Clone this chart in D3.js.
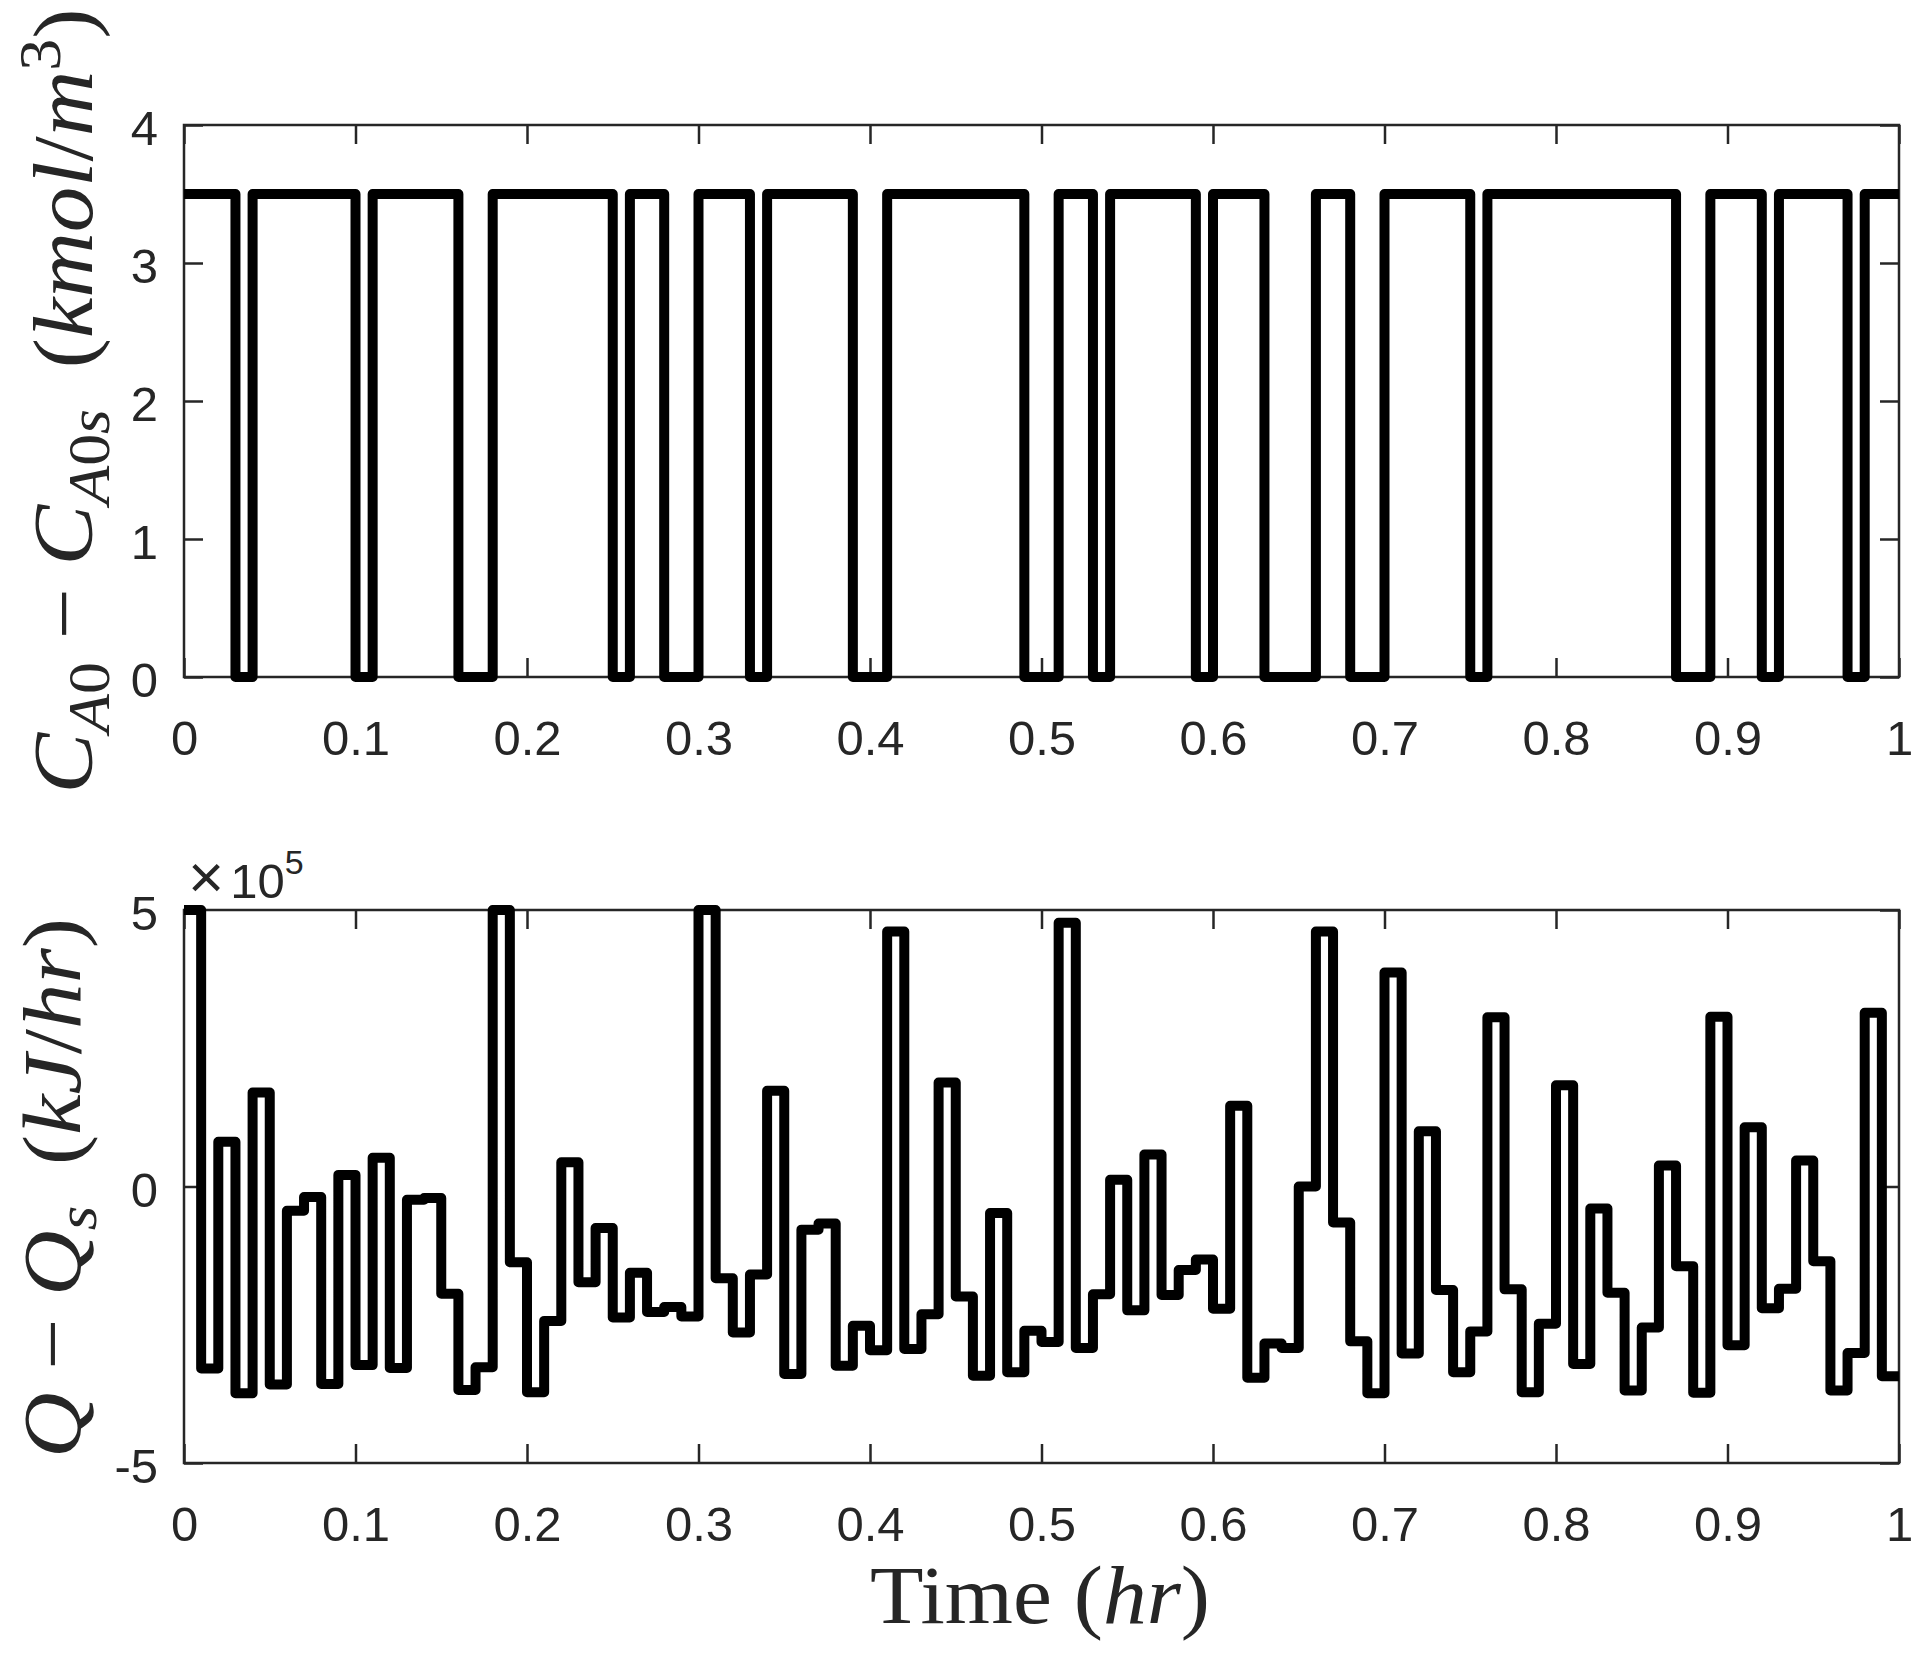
<!DOCTYPE html>
<html>
<head>
<meta charset="utf-8">
<script src="https://cdn.jsdelivr.net/npm/d3@7"></script>
<style>
  html, body { margin: 0; padding: 0; background: #fff; }
  svg { display: block; }
</style>
</head>
<body>
<script>
// ---------------- DATA ----------------
const sampleTime = 0.01; // hr, piecewise-constant input period

// C_A0 - C_A0s (kmol/m^3), one value per sampling period
const cValues = [
  3.5,3.5,3.5,0,3.5,3.5,3.5,3.5,3.5,3.5,
  0,3.5,3.5,3.5,3.5,3.5,0,0,3.5,3.5,
  3.5,3.5,3.5,3.5,3.5,0,3.5,3.5,0,0,
  3.5,3.5,3.5,0,3.5,3.5,3.5,3.5,3.5,0,
  0,3.5,3.5,3.5,3.5,3.5,3.5,3.5,3.5,0,
  0,3.5,3.5,0,3.5,3.5,3.5,3.5,3.5,0,
  3.5,3.5,3.5,0,0,0,3.5,3.5,0,0,
  3.5,3.5,3.5,3.5,3.5,0,3.5,3.5,3.5,3.5,
  3.5,3.5,3.5,3.5,3.5,3.5,3.5,0,0,3.5,
  3.5,3.5,0,3.5,3.5,3.5,3.5,0,3.5,3.5
];

// Q - Qs (x 10^5 kJ/hr), one value per sampling period
const qValues = [
   5.00,-3.29, 0.81,-3.74, 1.70,-3.58,-0.44,-0.19,-3.57, 0.21,
  -3.23, 0.52,-3.28,-0.24,-0.21,-1.94,-3.68,-3.27, 5.00,-1.37,
  -3.72,-2.43, 0.44,-1.73,-0.75,-2.37,-1.56,-2.27,-2.18,-2.35,
   5.00,-1.66,-2.64,-1.59, 1.73,-3.39,-0.78,-0.67,-3.24,-2.52,
  -2.96, 4.61,-2.94,-2.31, 1.88,-1.99,-3.42,-0.48,-3.36,-2.61,
  -2.81, 4.77,-2.92,-1.95, 0.12,-2.24, 0.58,-1.96,-1.51,-1.32,
  -2.21, 1.46,-3.46,-2.84,-2.92, 0.00, 4.61,-0.65,-2.80,-3.74,
   3.87,-3.02, 1.00,-1.87,-3.36,-2.62, 3.06,-1.86,-3.72,-2.48,
   1.83,-3.21,-0.40,-1.92,-3.69,-2.55, 0.38,-1.44,-3.73, 3.07,
  -2.87, 1.07,-2.20,-1.85, 0.47,-1.35,-3.69,-3.01, 3.14,-3.43
];

const xTicks = [0,0.1,0.2,0.3,0.4,0.5,0.6,0.7,0.8,0.9,1];
const xTickLabels = ["0","0.1","0.2","0.3","0.4","0.5","0.6","0.7","0.8","0.9","1"];
const cTicks = [0,1,2,3,4];
const cTickLabels = ["0","1","2","3","4"];
const qTicks = [-5,0,5];
const qTickLabels = ["-5","0","5"];

// ---------------- LAYOUT ----------------
const W = 1925, H = 1659;
const L = 184, R = 1899;
const topPanel = { top: 125, bottom: 677 };
const botPanel = { top: 910, bottom: 1463 };
const axisColor = "#262626";
const tickFont = "'Liberation Sans', Arial, Helvetica, sans-serif";
const mathFont = "'Liberation Serif', 'Times New Roman', serif";

const svg = d3.select("body").append("svg")
  .attr("width", W).attr("height", H)
  .attr("viewBox", `0 0 ${W} ${H}`);

const x = d3.scaleLinear().domain([0, 1]).range([L, R]);

function steps(values) {
  const pts = values.map((v, i) => [i * sampleTime, v]);
  pts.push([values.length * sampleTime, values[values.length - 1]]);
  return pts;
}

function drawPanel(panel, y, yTicks, yTickLabels, values) {
  const g = svg.append("g");
  const h = panel.bottom - panel.top;
  const ax = g.append("g").attr("transform", `translate(0,${panel.bottom})`)
    .call(d3.axisBottom(x).tickValues(xTicks)
      .tickFormat((d, i) => xTickLabels[i]).tickSizeInner(-19).tickSizeOuter(0).tickPadding(43));
  const axT = g.append("g").attr("transform", `translate(0,${panel.top})`)
    .call(d3.axisTop(x).tickValues(xTicks).tickFormat("").tickSizeInner(-19).tickSizeOuter(0));
  const ayL = g.append("g").attr("transform", `translate(${L},0)`)
    .call(d3.axisLeft(y).tickValues(yTicks)
      .tickFormat((d, i) => yTickLabels[i]).tickSizeInner(-19).tickSizeOuter(0).tickPadding(26));
  const ayR = g.append("g").attr("transform", `translate(${R},0)`)
    .call(d3.axisRight(y).tickValues(yTicks).tickFormat("").tickSizeInner(-19).tickSizeOuter(0));

  [ax, axT, ayL, ayR].forEach(a => {
    a.select(".domain").remove();
    a.selectAll(".tick line").attr("stroke", axisColor).attr("stroke-width", 2.5);
    a.selectAll(".tick text").attr("fill", axisColor)
      .style("font-family", tickFont).style("font-size", "49px");
  });
  ayL.selectAll(".tick text").attr("dy", "0.40em");

  g.append("rect").attr("x", L).attr("y", panel.top)
    .attr("width", R - L).attr("height", h)
    .attr("fill", "none").attr("stroke", axisColor).attr("stroke-width", 2.5);

  const line = d3.line()
    .x(d => x(d[0])).y(d => y(d[1]))
    .curve(d3.curveStepAfter);

  g.append("path").datum(steps(values))
    .attr("d", line)
    .attr("fill", "none").attr("stroke", "#000")
    .attr("stroke-width", 10).attr("stroke-linejoin", "round")
    .attr("stroke-linecap", "butt");
  return g;
}

const yC = d3.scaleLinear().domain([0, 4]).range([topPanel.bottom, topPanel.top]);
const yQ = d3.scaleLinear().domain([-5, 5]).range([botPanel.bottom, botPanel.top]);

drawPanel(topPanel, yC, cTicks, cTickLabels, cValues);
drawPanel(botPanel, yQ, qTicks, qTickLabels, qValues);

// exponent label x10^5
const ex = svg.append("text").attr("x", 188).attr("y", 898)
  .attr("fill", axisColor).style("font-family", tickFont).style("font-size", "49px");
ex.append("tspan").style("font-size", "62px").text("\u00d7");
ex.append("tspan").attr("dx", 6).text("10");
ex.append("tspan").attr("dy", -24).style("font-size", "34px").text("5");

// helper for math labels
function mathLabel(parts, opts) {
  const t = svg.append("text")
    .attr("text-anchor", "middle")
    .attr("fill", "#262626")
    .style("font-family", mathFont)
    .style("font-size", opts.size + "px");
  if (opts.rotate) {
    t.attr("transform", `translate(${opts.x},${opts.y}) rotate(-90)`).attr("x", 0).attr("y", 0);
  } else {
    t.attr("x", opts.x).attr("y", opts.y);
  }
  if (opts.length) t.attr("textLength", opts.length).attr("lengthAdjust", "spacingAndGlyphs");
  let level = 0;
  const sub = Math.round(opts.size * 0.2), sup = Math.round(opts.size * 0.38);
  parts.forEach(p => {
    const target = p.s === "sub" ? sub : p.s === "sup" ? -sup : 0;
    const span = t.append("tspan").text(p.t)
      .style("font-style", p.i ? "italic" : "normal");
    if (p.s) span.style("font-size", Math.round(opts.size * 0.7) + "px");
    if (target !== level) { span.attr("dy", target - level); level = target; }
  });
  return t;
}

// y label top: C_A0 - C_A0s (kmol/m^3)
mathLabel([
  {t: "C", i: true},
  {t: "A", i: true, s: "sub"}, {t: "0", s: "sub"},
  {t: " \u2212 "},
  {t: "C", i: true},
  {t: "A", i: true, s: "sub"}, {t: "0", s: "sub"}, {t: "s", i: true, s: "sub"},
  {t: " \u2009("},
  {t: "kmol", i: true},
  {t: "/"},
  {t: "m", i: true},
  {t: "3", s: "sup"},
  {t: ")"}
], {x: 92, y: 401, rotate: true, size: 84, length: 785});

// y label bottom: Q - Q_s (kJ/hr)
mathLabel([
  {t: "Q", i: true},
  {t: " \u2212 "},
  {t: "Q", i: true},
  {t: "s", i: true, s: "sub"},
  {t: " \u2009("},
  {t: "kJ", i: true},
  {t: "/"},
  {t: "hr", i: true},
  {t: ")"}
], {x: 80, y: 1188, rotate: true, size: 82, length: 540});

// x label: Time (hr)
mathLabel([
  {t: "Time ("},
  {t: "hr", i: true},
  {t: ")"}
], {x: 1040, y: 1623, rotate: false, size: 82, length: 340});
</script>
</body>
</html>
